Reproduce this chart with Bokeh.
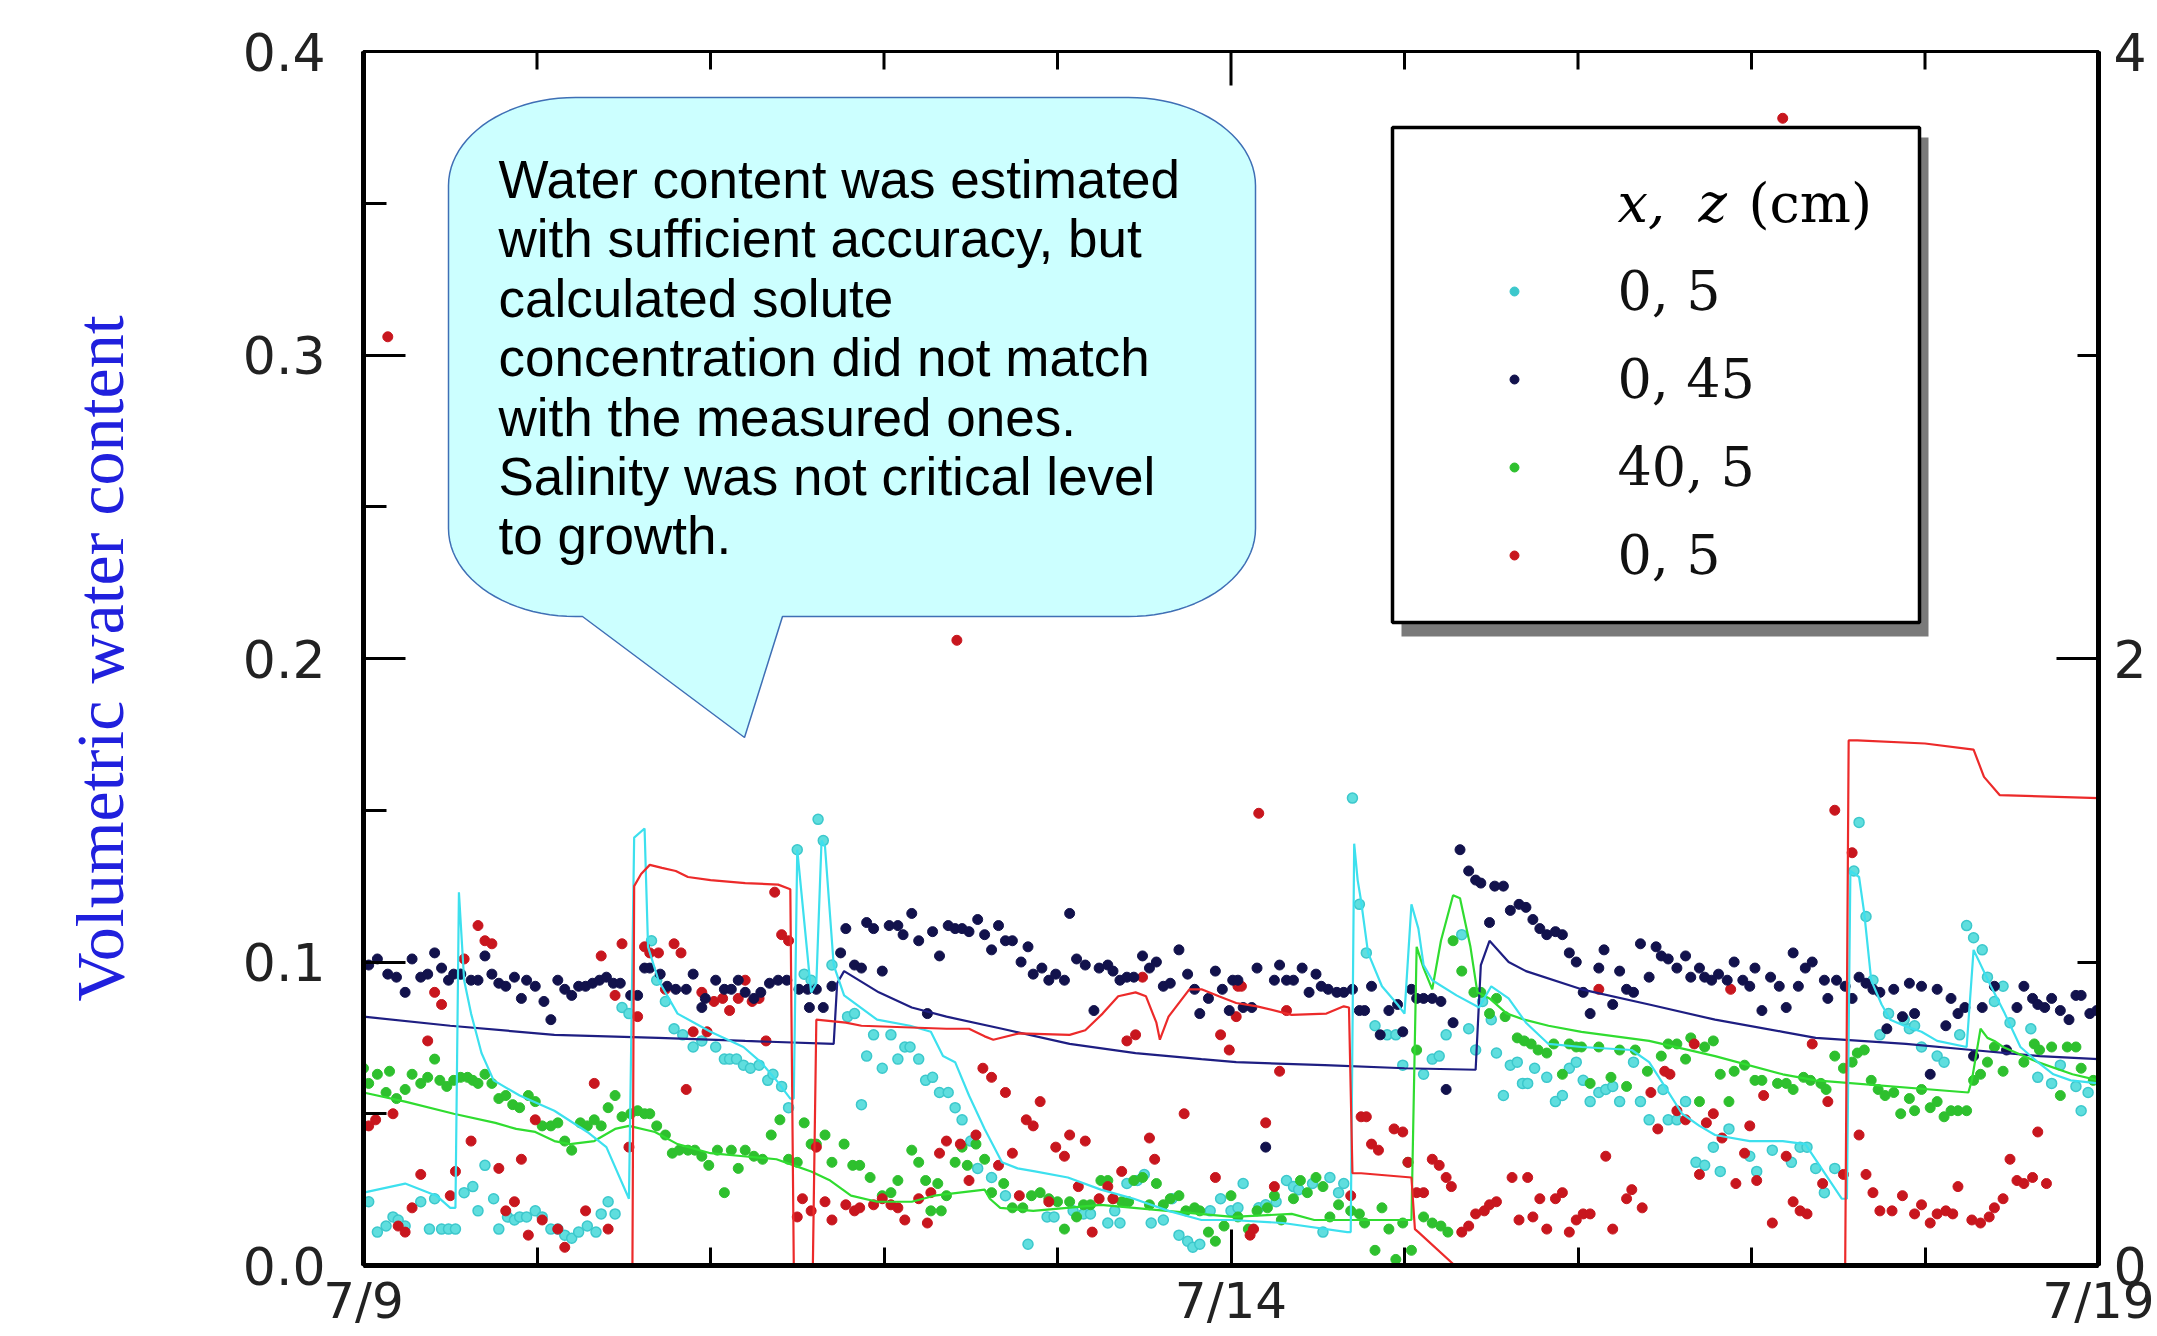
import numpy as np
from bokeh.plotting import figure
from bokeh.models import Range1d, LinearAxis, FixedTicker
from bokeh.core.properties import value
from bokeh.embed import file_html
from bokeh.resources import INLINE

# ---------------- data (x = days after 7/9) ----------------
x_ticks = [0, 5, 10]
x_tick_labels = ["7/9", "7/14", "7/19"]
x_minor = [1, 2, 3, 4, 6, 7, 8, 9]
y_ticks = [0.0, 0.1, 0.2, 0.3, 0.4]
y_tick_labels = ["0.0", "0.1", "0.2", "0.3", "0.4"]
y_minor = [0.05, 0.15, 0.25, 0.35]
r_ticks = [0, 2, 4]
r_minor = [1, 3]

legend_labels = ["0, 5", "0, 45", "40, 5", "0, 5"]
callout_lines = ["Water content was estimated",
                 "with sufficient accuracy, but",
                 "calculated solute",
                 "concentration did not match",
                 "with the measured ones.",
                 "Salinity was not critical level",
                 "to growth."]

navy_obs = [(0.03,0.099),(0.08,0.101),(0.14,0.096),(0.19,0.095),(0.24,0.090),(0.28,0.101),(0.33,0.095),(0.37,0.096),(0.41,0.103),(0.45,0.098),(0.49,0.094),(0.52,0.096),(0.56,0.096),(0.62,0.094),(0.66,0.094),(0.70,0.102),(0.74,0.096),(0.78,0.093),(0.82,0.092),(0.87,0.095),(0.91,0.088),(0.94,0.094),(0.99,0.092),(1.04,0.087),(1.08,0.081),(1.12,0.094),(1.16,0.091),(1.20,0.089),(1.24,0.092),(1.28,0.092),(1.32,0.093),(1.36,0.094),(1.40,0.095),(1.44,0.093),(1.48,0.093),(1.54,0.089),(1.58,0.089),(1.62,0.098),(1.65,0.098),
 (1.71,0.096),(1.75,0.092),(1.80,0.091),(1.86,0.091),(1.90,0.096),(1.95,0.085),(1.97,0.088),(2.03,0.094),(2.08,0.091),(2.12,0.091),(2.16,0.094),(2.20,0.090),(2.25,0.088),(2.29,0.090),(2.34,0.093),(2.39,0.094),(2.44,0.094),(2.51,0.091),(2.56,0.091),(2.57,0.085),(2.61,0.091),(2.65,0.085),(2.70,0.092),(2.75,0.103),(2.78,0.111),(2.83,0.099),(2.87,0.098),(2.90,0.113),(2.94,0.111),(2.99,0.097),(3.03,0.112),(3.08,0.112),(3.11,0.109),(3.16,0.116),(3.20,0.107),(3.25,0.083),(3.28,0.110),(3.32,0.102),
 (3.37,0.112),(3.41,0.111),(3.45,0.111),(3.49,0.110),(3.54,0.114),(3.58,0.109),(3.62,0.104),(3.66,0.112),(3.70,0.107),(3.74,0.107),(3.79,0.100),(3.83,0.105),(3.86,0.096),(3.91,0.098),(3.95,0.094),(3.99,0.096),(4.04,0.094),(4.07,0.116),(4.11,0.101),(4.16,0.099),(4.21,0.084),(4.24,0.098),(4.29,0.099),(4.32,0.097),(4.36,0.094),(4.40,0.095),(4.44,0.095),(4.49,0.102),(4.53,0.098),(4.57,0.100),(4.61,0.092),(4.65,0.093),(4.70,0.104),(4.75,0.096),(4.79,0.091),(4.82,0.083),(4.87,0.088),(4.91,0.097),(4.95,0.091),(4.99,0.084),(5.01,0.094),
 (5.04,0.094),(5.07,0.085),(5.12,0.085),(5.15,0.098),(5.20,0.039),(5.25,0.094),(5.28,0.099),(5.32,0.094),(5.36,0.094),(5.41,0.098),(5.45,0.090),(5.49,0.096),(5.52,0.092),(5.56,0.091),(5.61,0.090),(5.65,0.090),(5.70,0.091),(5.74,0.084),(5.77,0.084),(5.81,0.092),(5.86,0.076),(5.91,0.084),(5.96,0.086),(5.99,0.077),(6.04,0.091),(6.07,0.088),(6.11,0.088),(6.16,0.088),(6.21,0.087),(6.24,0.058),(6.28,0.080),(6.32,0.137),(6.37,0.130),(6.41,0.127),(6.44,0.126),(6.49,0.113),(6.52,0.125),(6.57,0.125),(6.61,0.117),(6.66,0.119),
 (6.70,0.118),(6.74,0.114),(6.78,0.111),(6.82,0.109),(6.87,0.110),(6.91,0.109),(6.95,0.103),(6.99,0.100),(7.03,0.090),(7.07,0.083),(7.12,0.098),(7.15,0.104),(7.20,0.086),(7.24,0.097),(7.28,0.091),(7.32,0.090),(7.36,0.106),(7.41,0.095),(7.45,0.105),(7.48,0.102),(7.52,0.101),(7.57,0.098),(7.62,0.102),(7.65,0.095),(7.70,0.098),(7.73,0.095),(7.77,0.094),(7.81,0.096),(7.86,0.094),(7.90,0.100),(7.95,0.094),(7.99,0.092),(8.02,0.098),(8.06,0.084),(8.11,0.095),(8.16,0.092),(8.20,0.085),(8.24,0.103),(8.27,0.092),(8.31,0.098),(8.35,0.100),
 (8.42,0.094),(8.44,0.088),(8.49,0.094),(8.54,0.092),(8.58,0.088),(8.62,0.095),(8.66,0.093),(8.70,0.091),(8.74,0.090),(8.78,0.078),(8.82,0.091),(8.87,0.082),(8.91,0.093),(8.94,0.083),(8.98,0.092),(9.03,0.063),(9.07,0.091),(9.12,0.079),(9.15,0.088),(9.19,0.083),(9.23,0.085),(9.28,0.069),(9.33,0.085),(9.40,0.092),(9.47,0.071),(9.53,0.085),(9.57,0.092),(9.62,0.088),(9.65,0.086),(9.69,0.085),(9.73,0.088),(9.78,0.084),(9.83,0.081),(9.87,0.089),(9.90,0.089),(9.95,0.083),(9.99,0.084)]

cyan_obs = [(0.03,0.021),(0.08,0.011),(0.13,0.013),(0.17,0.016),(0.20,0.015),(0.24,0.013),(0.33,0.021),(0.38,0.012),(0.41,0.022),(0.45,0.012),(0.49,0.012),(0.53,0.012),(0.56,0.096),(0.58,0.024),(0.63,0.026),(0.66,0.018),(0.70,0.033),(0.75,0.022),(0.78,0.012),(0.83,0.016),(0.87,0.015),(0.90,0.016),(0.94,0.016),(0.99,0.018),(1.03,0.016),(1.08,0.012),(1.12,0.012),(1.16,0.010),(1.20,0.009),(1.24,0.011),(1.29,0.013),(1.34,0.011),(1.37,0.017),(1.41,0.021),(1.45,0.017),(1.49,0.085),(1.53,0.083),
 (1.66,0.107),(1.69,0.094),(1.74,0.087),(1.79,0.078),(1.84,0.076),(1.90,0.072),(1.95,0.074),(2.03,0.072),(2.08,0.068),(2.11,0.068),(2.15,0.068),(2.19,0.066),(2.23,0.065),(2.28,0.066),(2.33,0.061),(2.36,0.063),(2.41,0.059),(2.45,0.052),(2.50,0.137),(2.54,0.096),(2.58,0.094),(2.62,0.147),(2.65,0.140),(2.70,0.099),(2.79,0.082),(2.83,0.083),(2.87,0.053),(2.90,0.069),(2.94,0.076),(2.99,0.065),(3.04,0.076),(3.08,0.068),(3.12,0.072),(3.15,0.072),(3.20,0.068),(3.24,0.061),(3.28,0.062),(3.32,0.057),
 (3.37,0.057),(3.41,0.052),(3.45,0.048),(3.50,0.041),(3.54,0.032),(3.62,0.029),(3.70,0.023),(3.83,0.007),(3.94,0.016),(3.98,0.016),(4.09,0.018),(4.15,0.017),(4.19,0.017),(4.29,0.014),(4.33,0.018),(4.36,0.014),(4.40,0.027),(4.46,0.028),(4.50,0.030),(4.54,0.014),(4.61,0.015),(4.66,0.022),(4.70,0.010),(4.75,0.008),(4.78,0.006),(4.82,0.007),(4.88,0.018),(4.94,0.022),
 (5.00,0.018),(5.04,0.019),(5.07,0.027),(5.16,0.019),(5.20,0.020),(5.26,0.021),(5.32,0.028),(5.36,0.026),(5.39,0.025),(5.47,0.027),(5.53,0.011),(5.57,0.029),(5.62,0.024),(5.65,0.027),(5.70,0.154),(5.74,0.119),(5.78,0.103),(5.83,0.079),(5.90,0.076),(5.95,0.076),(5.99,0.066),(6.11,0.063),(6.16,0.068),(6.20,0.069),(6.24,0.076),(6.33,0.109),(6.37,0.078),(6.41,0.071),(6.45,0.087),(6.50,0.081),(6.53,0.070),(6.57,0.056),(6.61,0.066),(6.65,0.067),(6.68,0.060),
 (6.71,0.060),(6.75,0.065),(6.82,0.062),(6.87,0.054),(6.91,0.056),(6.95,0.065),(6.99,0.067),(7.03,0.061),(7.07,0.054),(7.12,0.057),(7.16,0.058),(7.20,0.059),(7.24,0.054),(7.32,0.067),(7.36,0.054),(7.41,0.048),(7.49,0.058),(7.52,0.048),(7.57,0.048),(7.62,0.054),(7.68,0.034),(7.73,0.033),(7.78,0.039),(7.82,0.031),(7.87,0.045),(7.99,0.036),(8.03,0.031),(8.12,0.038),(8.23,0.034),(8.28,0.039),(8.32,0.039),
 (8.37,0.032),(8.42,0.024),(8.48,0.032),(8.59,0.130),(8.62,0.146),(8.66,0.115),(8.70,0.094),(8.74,0.076),(8.79,0.083),(8.88,0.081),(8.91,0.078),(8.94,0.079),(8.98,0.072),(9.07,0.069),(9.11,0.067),(9.20,0.076),(9.24,0.112),(9.28,0.108),(9.33,0.104),(9.36,0.095),(9.40,0.087),(9.45,0.092),(9.49,0.080),(9.61,0.078),(9.65,0.062),(9.73,0.060),(9.78,0.066),(9.87,0.059),(9.90,0.051),(9.94,0.057)]

green_obs = [(0.00,0.065),(0.03,0.060),(0.08,0.063),(0.13,0.057),(0.15,0.064),(0.19,0.055),(0.24,0.058),(0.28,0.063),(0.33,0.060),(0.37,0.062),(0.41,0.068),(0.44,0.061),(0.48,0.059),(0.52,0.061),(0.56,0.062),(0.60,0.062),(0.63,0.061),(0.66,0.060),(0.70,0.063),(0.74,0.060),(0.78,0.055),(0.82,0.056),(0.86,0.053),(0.90,0.052),(0.95,0.056),(0.99,0.054),(1.03,0.046),(1.08,0.046),(1.12,0.047),(1.16,0.041),(1.20,0.038),(1.25,0.047),(1.29,0.046),(1.33,0.048),(1.37,0.046),(1.41,0.052),(1.45,0.056),(1.49,0.049),(1.54,0.050),(1.58,0.051),(1.62,0.050),(1.65,0.050),
 (1.69,0.046),(1.74,0.043),(1.78,0.037),(1.82,0.038),(1.87,0.038),(1.91,0.038),(1.95,0.036),(1.99,0.033),(2.04,0.038),(2.08,0.024),(2.12,0.038),(2.16,0.032),(2.20,0.038),(2.25,0.036),(2.30,0.035),(2.35,0.043),(2.40,0.048),(2.45,0.035),(2.50,0.034),(2.54,0.047),(2.58,0.040),(2.61,0.040),(2.66,0.043),(2.70,0.034),(2.77,0.040),(2.82,0.033),(2.86,0.033),(2.92,0.029),(2.99,0.023),(3.04,0.024),(3.08,0.028),(3.16,0.038),(3.20,0.034),(3.24,0.028),(3.27,0.018),(3.31,0.027),
 (3.33,0.018),(3.36,0.023),(3.41,0.034),(3.45,0.039),(3.48,0.033),(3.53,0.040),(3.58,0.035),(3.62,0.024),(3.69,0.027),(3.74,0.019),(3.80,0.019),(3.85,0.023),(3.90,0.024),(3.95,0.022),(4.00,0.021),(4.04,0.012),(4.07,0.021),(4.11,0.016),(4.15,0.020),(4.19,0.020),(4.25,0.028),(4.29,0.028),(4.32,0.022),(4.37,0.021),(4.41,0.021),(4.44,0.028),(4.49,0.029),(4.53,0.020),(4.57,0.027),(4.61,0.020),(4.65,0.022),(4.70,0.023),(4.74,0.018),(4.79,0.019),(4.82,0.018),(4.87,0.011),(4.91,0.008),(4.96,0.013),(5.00,0.023),
 (5.04,0.016),(5.10,0.012),(5.15,0.018),(5.21,0.019),(5.25,0.023),(5.29,0.015),(5.36,0.022),(5.40,0.028),(5.44,0.024),(5.49,0.029),(5.53,0.026),(5.57,0.016),(5.62,0.020),(5.69,0.018),(5.74,0.017),(5.77,0.014),(5.83,0.005),(5.87,0.019),(5.91,0.012),(5.95,0.002),(5.99,0.014),(6.02,0.034),(6.04,0.005),(6.07,0.071),(6.11,0.016),(6.16,0.014),(6.21,0.013),(6.25,0.011),(6.28,0.107),(6.33,0.097),(6.40,0.090),(6.44,0.090),(6.49,0.083),(6.53,0.088),(6.58,0.082),(6.65,0.075),(6.69,0.074),
 (6.73,0.073),(6.77,0.071),(6.82,0.070),(6.86,0.073),(6.91,0.063),(6.95,0.073),(6.99,0.072),(7.02,0.072),(7.07,0.060),(7.12,0.072),(7.19,0.062),(7.24,0.071),(7.28,0.059),(7.33,0.071),(7.40,0.064),(7.48,0.069),(7.52,0.073),(7.57,0.073),(7.62,0.068),(7.65,0.075),(7.70,0.054),(7.73,0.072),(7.78,0.074),(7.82,0.063),(7.87,0.054),(7.90,0.064),(7.96,0.066),(8.02,0.061),(8.06,0.061),(8.15,0.060),(8.20,0.060),(8.24,0.058),(8.30,0.062),(8.34,0.061),
 (8.40,0.060),(8.43,0.058),(8.48,0.069),(8.53,0.065),(8.58,0.067),(8.61,0.070),(8.65,0.071),(8.69,0.061),(8.73,0.058),(8.77,0.056),(8.82,0.057),(8.86,0.050),(8.91,0.055),(8.94,0.051),(8.98,0.058),(9.03,0.052),(9.07,0.054),(9.11,0.049),(9.15,0.051),(9.19,0.051),(9.24,0.051),(9.28,0.061),(9.32,0.063),(9.36,0.067),(9.40,0.072),(9.45,0.064),(9.57,0.067),(9.63,0.073),(9.66,0.071),(9.73,0.072),(9.78,0.056),(9.82,0.072),(9.87,0.072),(9.90,0.065),(9.97,0.061)]

# red = solute concentration, right axis
red_obs = [(0.03,0.46),(0.07,0.48),(0.14,3.06),(0.17,0.50),(0.20,0.13),(0.24,0.11),(0.28,0.19),(0.33,0.30),(0.37,0.74),(0.41,0.90),(0.45,0.86),(0.50,0.23),(0.53,0.31),(0.58,1.01),(0.62,0.41),(0.66,1.12),(0.70,1.07),(0.74,1.06),(0.78,0.32),(0.82,0.18),(0.87,0.21),(0.91,0.35),(0.95,0.10),(0.99,0.48),(1.03,0.15),(1.12,0.12),(1.16,0.06),(1.28,0.18),(1.33,0.60),(1.37,1.02),(1.41,0.12),(1.45,0.89),(1.49,1.06),(1.53,0.39),(1.58,0.82),(1.62,1.05),(1.65,1.03),
 (1.70,1.03),(1.74,0.91),(1.79,1.06),(1.83,1.03),(1.86,0.58),(1.90,0.77),(1.95,0.90),(1.98,0.77),(2.02,0.87),(2.07,0.88),(2.11,0.84),(2.16,0.88),(2.20,0.94),(2.24,0.87),(2.28,0.88),(2.32,0.74),(2.37,1.23),(2.41,1.09),(2.45,1.07),(2.50,0.16),(2.53,0.22),(2.58,0.18),(2.61,0.39),(2.66,0.21),(2.70,0.15),(2.78,0.20),(2.83,0.18),(2.86,0.19),(2.94,0.20),(2.99,0.22),(3.04,0.20),(3.08,0.19),(3.12,0.15),(3.20,0.22),(3.25,0.14),(3.27,0.24),(3.32,0.37),
 (3.36,0.41),(3.42,2.06),(3.44,0.40),(3.49,0.28),(3.53,0.43),(3.57,0.65),(3.62,0.62),(3.66,0.33),(3.70,0.57),(3.74,0.37),(3.78,0.23),(3.82,0.48),(3.86,0.46),(3.90,0.54),(3.95,0.21),(3.99,0.39),(4.04,0.36),(4.07,0.43),(4.12,0.26),(4.16,0.41),(4.20,0.11),(4.24,0.22),(4.29,0.26),(4.32,0.22),(4.37,0.31),(4.40,0.74),(4.45,0.76),(4.49,0.95),(4.53,0.42),(4.56,0.35),(4.73,0.50),(4.91,0.29),(4.94,0.76),(4.99,0.71),
 (5.03,0.82),(5.04,0.92),(5.06,0.92),(5.11,0.10),(5.13,0.12),(5.16,1.49),(5.20,0.47),(5.25,0.26),(5.28,0.64),(5.32,0.84),(5.69,0.23),(5.75,0.49),(5.78,0.49),(5.81,0.40),(5.85,0.38),(5.94,0.45),(5.99,0.44),(6.02,0.34),(6.07,0.24),(6.11,0.24),(6.16,0.35),(6.20,0.33),(6.24,0.29),(6.27,0.26),(6.33,0.11),(6.37,0.13),(6.41,0.17),(6.46,0.18),(6.49,0.20),(6.53,0.21),(6.62,0.29),(6.66,0.15),
 (6.71,0.29),(6.74,0.16),(6.78,0.22),(6.82,0.12),(6.87,0.22),(6.91,0.24),(6.95,0.11),(6.99,0.15),(7.03,0.17),(7.07,0.17),(7.12,0.91),(7.16,0.36),(7.20,0.12),(7.28,0.22),(7.31,0.25),(7.37,0.19),(7.42,0.57),(7.46,0.45),(7.50,0.64),(7.53,0.63),(7.57,0.51),(7.62,0.48),(7.67,0.73),(7.70,0.30),(7.74,0.47),(7.78,0.50),(7.83,0.42),(7.88,0.91),(7.91,0.27),(7.96,0.37),(7.99,0.46),(8.03,0.28),(8.07,0.56),(8.12,0.14),(8.18,3.78),(8.20,0.36),(8.24,0.21),(8.28,0.18),(8.32,0.17),(8.35,0.73),
 (8.41,0.27),(8.44,0.54),(8.48,1.50),(8.53,0.30),(8.58,1.36),(8.62,0.43),(8.66,0.30),(8.70,0.24),(8.74,0.18),(8.81,0.18),(8.87,0.23),(8.94,0.17),(8.98,0.20),(9.03,0.14),(9.07,0.17),(9.12,0.18),(9.16,0.17),(9.19,0.26),(9.27,0.15),(9.32,0.14),(9.37,0.16),(9.40,0.19),(9.45,0.22),(9.49,0.35),(9.53,0.28),(9.57,0.27),(9.62,0.29),(9.65,0.44),(9.70,0.27)]

navy_sim = [(0.0,0.082),(0.5,0.079),(1.1,0.076),(1.7,0.075),(2.2,0.074),(2.71,0.073),(2.73,0.093),(2.77,0.097),(2.97,0.090),(3.16,0.085),(3.36,0.082),(3.68,0.078),(4.07,0.073),(4.45,0.070),(4.83,0.068),(5.03,0.067),(5.54,0.066),(6.0,0.065),(6.41,0.0645),(6.44,0.099),(6.49,0.107),(6.6,0.100),(6.70,0.097),(7.02,0.091),(7.41,0.086),(7.79,0.081),(8.18,0.077),(8.37,0.075),(8.89,0.073),(9.27,0.071),(9.66,0.069),(10.0,0.068)]

cyan_sim = [(0.0,0.024),(0.24,0.027),(0.42,0.023),(0.50,0.019),(0.53,0.019),(0.55,0.123),(0.58,0.094),(0.62,0.083),(0.68,0.070),(0.75,0.061),(0.90,0.056),(1.10,0.051),(1.29,0.044),(1.40,0.039),(1.53,0.022),(1.56,0.141),(1.62,0.144),(1.64,0.105),(1.70,0.094),(1.81,0.083),(2.00,0.077),(2.19,0.072),(2.29,0.067),(2.38,0.061),(2.46,0.055),(2.48,0.055),(2.50,0.137),(2.58,0.090),(2.61,0.093),(2.64,0.140),(2.66,0.138),(2.71,0.099),(2.77,0.089),(2.96,0.081),(3.15,0.079),(3.27,0.077),(3.34,0.069),(3.41,0.067),(3.49,0.056),(3.58,0.045),(3.68,0.034),(3.77,0.032),(3.87,0.031),(4.06,0.029),(4.25,0.025),(4.44,0.022),(4.64,0.018),(4.83,0.015),(5.00,0.015),(5.30,0.014),(5.67,0.011),(5.69,0.011),(5.71,0.139),(5.73,0.127),(5.75,0.120),(5.79,0.103),(5.87,0.092),(5.96,0.086),(6.00,0.083),(6.04,0.119),(6.08,0.111),(6.11,0.099),(6.16,0.094),(6.30,0.089),(6.43,0.085),(6.50,0.092),(6.60,0.088),(6.70,0.080),(6.83,0.073),(7.02,0.072),(7.31,0.071),(7.41,0.067),(7.50,0.059),(7.60,0.050),(7.70,0.046),(7.79,0.043),(7.99,0.041),(8.18,0.041),(8.31,0.040),(8.52,0.022),(8.55,0.022),(8.57,0.130),(8.62,0.128),(8.65,0.116),(8.69,0.094),(8.75,0.086),(8.80,0.081),(8.88,0.079),(8.98,0.077),(9.07,0.074),(9.24,0.072),(9.28,0.104),(9.38,0.092),(9.46,0.083),(9.55,0.072),(9.65,0.067),(9.74,0.063),(9.84,0.061),(10.0,0.060)]

green_sim = [(0.0,0.057),(0.24,0.054),(0.52,0.050),(0.76,0.047),(0.88,0.045),(0.99,0.044),(1.10,0.041),(1.19,0.040),(1.33,0.041),(1.45,0.045),(1.53,0.046),(1.68,0.044),(1.81,0.040),(2.00,0.037),(2.19,0.036),(2.38,0.035),(2.48,0.033),(2.58,0.031),(2.69,0.028),(2.81,0.023),(2.96,0.021),(3.16,0.021),(3.29,0.023),(3.58,0.025),(3.61,0.022),(3.67,0.019),(3.86,0.018),(4.25,0.020),(4.44,0.019),(4.63,0.018),(4.82,0.017),(5.01,0.016),(5.35,0.017),(5.48,0.015),(6.04,0.015),(6.07,0.105),(6.11,0.098),(6.16,0.091),(6.21,0.107),(6.28,0.122),(6.32,0.121),(6.38,0.105),(6.42,0.090),(6.49,0.088),(6.59,0.083),(6.69,0.081),(6.83,0.079),(7.02,0.077),(7.41,0.074),(7.79,0.069),(8.18,0.063),(8.37,0.061),(9.25,0.057),(9.27,0.061),(9.32,0.078),(9.36,0.075),(9.40,0.074),(9.45,0.072),(9.65,0.067),(9.85,0.063),(10.0,0.061)]

red_sim = [(0.0,0.0),(1.55,0.0),(1.56,1.25),(1.60,1.29),(1.65,1.32),(1.72,1.31),(1.80,1.30),(1.87,1.28),(2.00,1.27),(2.20,1.26),(2.39,1.255),(2.46,1.24),(2.48,0.0),(2.59,0.0),(2.61,0.81),(2.78,0.80),(2.87,0.79),(3.36,0.78),(3.49,0.78),(3.58,0.755),(3.63,0.744),(3.78,0.765),(4.07,0.76),(4.16,0.775),(4.26,0.83),(4.35,0.887),(4.45,0.90),(4.51,0.887),(4.57,0.80),(4.59,0.744),(4.64,0.82),(4.76,0.91),(4.83,0.91),(4.93,0.887),(5.03,0.865),(5.15,0.854),(5.35,0.826),(5.55,0.83),(5.65,0.854),(5.68,0.85),(5.70,0.304),(5.75,0.304),(6.04,0.29),(6.06,0.12),(6.08,0.11),(6.29,0.0),(8.54,0.0),(8.56,1.73),(8.61,1.73),(9.0,1.72),(9.28,1.70),(9.34,1.61),(9.43,1.55),(10.0,1.54)]

# ---------------- styling ----------------
C_CYAN_DOT, C_CYAN_LINE = "#3cc8cc", "#3de0ee"
C_NAVY_DOT, C_NAVY_LINE = "#12124c", "#1e1e82"
C_GREEN_DOT, C_GREEN_LINE = "#2ec02e", "#30dc30"
C_RED_DOT, C_RED_LINE = "#c8161e", "#ec2a2a"
legend_colors = [C_CYAN_DOT, C_NAVY_DOT, C_GREEN_DOT, C_RED_DOT]

W, H = 2157, 1336
BL, BR, BT, BB = 363, 59, 51, 71
FW, FH = W - BL - BR, H - BT - BB
XMAX, YMAX = 10.0, 0.4

def dx(px):  # canvas px -> x data (for layout of decorations)
    return (px - BL) / FW * XMAX

def dy(py):  # canvas px -> y data
    return (H - BB - py) / FH * YMAX

def hlen(n):  # length of n pixels along y in data units
    return n / FH * YMAX

p = figure(width=W, height=H, output_backend="svg", toolbar_location=None,
           x_range=Range1d(0, XMAX), y_range=Range1d(0, YMAX),
           x_axis_location=None, y_axis_location=None,
           min_border_left=BL, min_border_right=BR, min_border_top=BT, min_border_bottom=BB)
p.extra_y_ranges = {"sol": Range1d(0, 4)}
p.grid.visible = False
p.outline_line_color = "black"
p.outline_line_width = 3
p.outline_line_alpha = 1.0
p.background_fill_color = "white"
p.border_fill_color = "white"

TICKF = "DejaVu Sans"

def style_axis(ax, width, major_in, minor_in):
    ax.axis_line_width = width
    ax.axis_line_color = "black"
    ax.major_tick_in = major_in
    ax.major_tick_out = 0
    ax.minor_tick_in = minor_in
    ax.minor_tick_out = 0
    ax.major_tick_line_width = 3
    ax.minor_tick_line_width = 3
    ax.major_label_text_font = TICKF
    ax.major_label_text_font_size = "52px"
    ax.major_label_text_color = "#222222"

# left axis
yl = LinearAxis(ticker=FixedTicker(ticks=y_ticks, minor_ticks=y_minor),
                major_label_overrides={t: s for t, s in zip(y_ticks, y_tick_labels)},
                axis_label="Volumetric water content")
style_axis(yl, 5, 42, 23)
yl.major_label_standoff = 38
yl.axis_label_standoff = 102
yl.axis_label_text_font = "Liberation Serif"
yl.axis_label_text_font_style = "normal"
yl.axis_label_text_font_size = "68px"
yl.axis_label_text_color = "#2020dd"
p.add_layout(yl, "left")

# right axis (solute)
yr = LinearAxis(y_range_name="sol", ticker=FixedTicker(ticks=r_ticks, minor_ticks=r_minor))
style_axis(yr, 5, 42, 21)
yr.major_label_standoff = 15
p.add_layout(yr, "right")

# bottom axis
xb = LinearAxis(ticker=FixedTicker(ticks=x_ticks, minor_ticks=x_minor),
                major_label_overrides={t: s for t, s in zip(x_ticks, x_tick_labels)})
style_axis(xb, 5, 36, 18)
xb.major_label_standoff = 6
xb.major_label_text_font_size = "50px"
p.add_layout(xb, "below")

# top edge ticks (mirrored day ticks, pointing down into the frame)
top_major_len, top_minor_len = hlen(34), hlen(18)
p.segment(x0=x_ticks, x1=x_ticks, y0=[YMAX] * len(x_ticks),
          y1=[YMAX - top_major_len] * len(x_ticks), line_color="black", line_width=3)
p.segment(x0=x_minor, x1=x_minor, y0=[YMAX] * len(x_minor),
          y1=[YMAX - top_minor_len] * len(x_minor), line_color="black", line_width=3)

def xs(pts):
    return [a for a, b in pts]

def ys(pts):
    return [b for a, b in pts]

DOT = 10
# observed points
p.scatter(xs(cyan_obs), ys(cyan_obs), size=DOT, fill_color="#5fdede", line_color=C_CYAN_DOT, line_width=1.5)
p.scatter(xs(green_obs), ys(green_obs), size=DOT, fill_color=C_GREEN_DOT, line_color=C_GREEN_DOT)
p.scatter(xs(red_obs), ys(red_obs), size=DOT, fill_color=C_RED_DOT, line_color=C_RED_DOT, y_range_name="sol")
p.scatter(xs(navy_obs), ys(navy_obs), size=DOT, fill_color=C_NAVY_DOT, line_color=C_NAVY_DOT)

# simulated lines
p.line(xs(navy_sim), ys(navy_sim), line_color=C_NAVY_LINE, line_width=2.2)
p.line(xs(green_sim), ys(green_sim), line_color=C_GREEN_LINE, line_width=2.2)
p.line(xs(cyan_sim), ys(cyan_sim), line_color=C_CYAN_LINE, line_width=2.2)
p.line(xs(red_sim), ys(red_sim), line_color=C_RED_LINE, line_width=2.2, y_range_name="sol")

# ---------------- callout bubble ----------------
bx0, bx1, by0, by1 = 448, 1255, 97, 616
rx, ry = 127, 88
tip = (744, 737)
base_l, base_r = 582, 782

def arc(cx, cy, a0, a1, n=24):
    t = np.radians(np.linspace(a0, a1, n))
    return list(cx + rx * np.cos(t)), list(cy + ry * np.sin(t))

px, py = [], []
for (cx, cy, a0, a1) in [(bx1 - rx, by0 + ry, -90, 0), (bx1 - rx, by1 - ry, 0, 90)]:
    ax_, ay_ = arc(cx, cy, a0, a1)
    px += ax_; py += ay_
px += [base_r, tip[0], base_l]; py += [by1, tip[1], by1]
for (cx, cy, a0, a1) in [(bx0 + rx, by1 - ry, 90, 180), (bx0 + rx, by0 + ry, 180, 270)]:
    ax_, ay_ = arc(cx, cy, a0, a1)
    px += ax_; py += ay_
p.patch([dx(v) for v in px], [dy(v) for v in py], fill_color="#ccffff",
        line_color="#3f6fb5", line_width=1.5)

line_y0, line_dy = 179, 59.4
p.text(x=[dx(498)] * len(callout_lines),
       y=[dy(line_y0 + i * line_dy) for i in range(len(callout_lines))],
       text=callout_lines, text_font=value("Liberation Sans"), text_font_size="53px",
       text_baseline="middle", text_align="left", text_color="black")

# ---------------- legend box ----------------
p.quad(left=[dx(1401)], right=[dx(1928)], top=[dy(137)], bottom=[dy(636)],
       fill_color="#7a7a7a", line_color=None)
p.quad(left=[dx(1392)], right=[dx(1919)], top=[dy(127)], bottom=[dy(622)],
       fill_color="white", line_color="black", line_width=3.5)

LF = "DejaVu Serif"
ty = dy(203)
p.text(x=[dx(1617)], y=[ty], text=["x,"], text_font=value(LF), text_font_style="italic",
       text_font_size="54px", text_baseline="middle")
p.text(x=[dx(1698)], y=[ty], text=["z"], text_font=value(LF), text_font_style="italic",
       text_font_size="54px", text_baseline="middle")
p.text(x=[dx(1748)], y=[ty], text=["(cm)"], text_font=value(LF),
       text_font_size="54px", text_baseline="middle")

ent_y = [dy(291 + 88 * i) for i in range(len(legend_labels))]
p.scatter([dx(1514)] * len(legend_labels), ent_y, size=DOT - 1, fill_color=legend_colors,
          line_color=legend_colors)
p.text(x=[dx(1617)] * len(legend_labels), y=ent_y, text=legend_labels, text_font=value(LF),
       text_font_size="54px", text_baseline="middle", text_color="#111111")

open("out.html", "w").write(file_html(p, INLINE))
